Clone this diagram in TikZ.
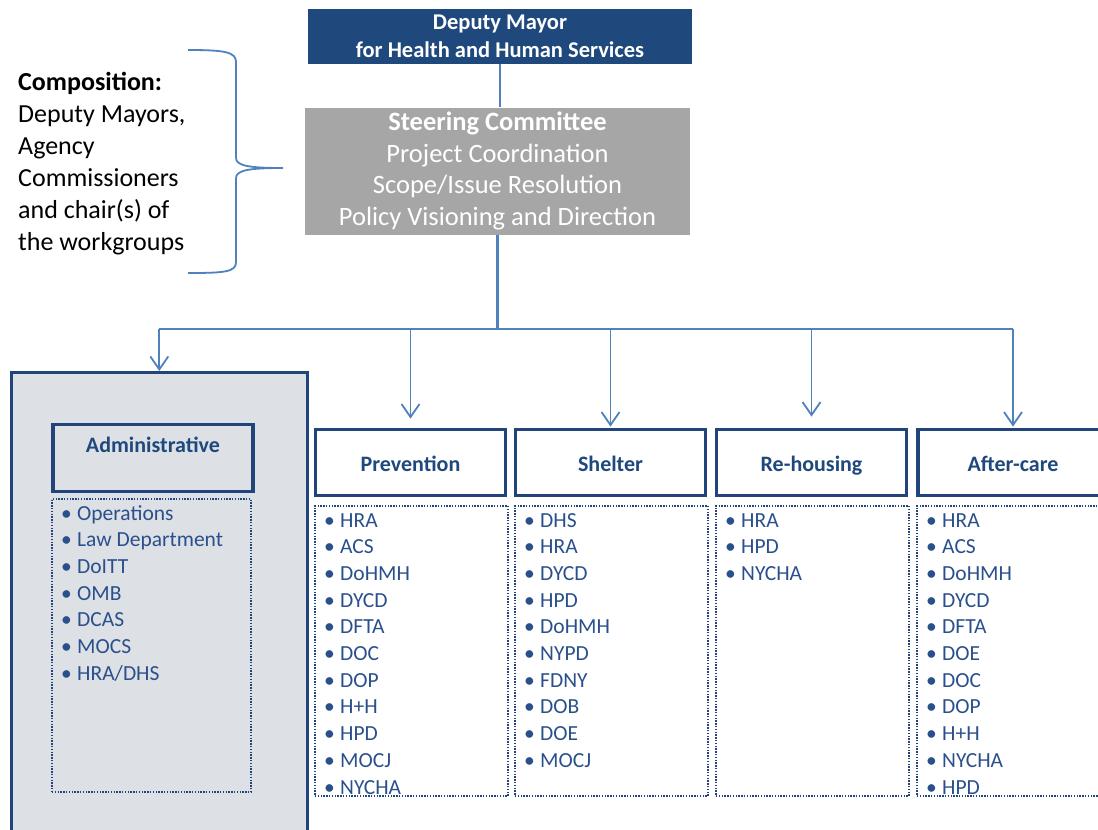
\documentclass[tikz,border=0pt]{standalone}
\usepackage{fontspec}
\setmainfont{Carlito}
\usetikzlibrary{arrows.meta,positioning}
\definecolor{dmblue}{RGB}{31,73,125}
\definecolor{hdrblue}{RGB}{33,68,122}
\definecolor{linkblue}{RGB}{79,129,189}
\definecolor{listblue}{RGB}{42,80,140}
\definecolor{stgray}{RGB}{166,166,166}
\definecolor{admgray}{RGB}{221,224,229}

\tikzset{
  mayorbox/.style={fill=dmblue, draw=none, text=white, align=center,
    minimum width=384pt, minimum height=55pt, font=\bfseries\fontsize{22.5}{28}\selectfont},
  steerbox/.style={fill=stgray, draw=none, text=white, align=center,
    minimum width=385pt, minimum height=127pt, font=\fontsize{26.5}{31.5}\selectfont},
  groupbox/.style={draw=hdrblue, line width=3.8pt, fill=white, text=dmblue,
    text height=18pt, text depth=0pt,
    minimum width=190pt, minimum height=66pt, font=\bfseries\fontsize{22}{26}\selectfont},
  listbox/.style={draw=hdrblue, line width=1.8pt, dash pattern=on 1.4pt off 1.4pt,
    minimum width=193pt, minimum height=290pt, anchor=north west},
  agency/.style={anchor=base west, inner sep=0pt, text=listblue,
    font=\fontsize{21.5}{26}\selectfont},
  link/.style={draw=linkblue, line width=1.8pt},
  linkarrow/.style={link, -{Straight Barb[length=13pt, width=18pt, line width=1.8pt]}}
}
\newcommand{\agencylist}[2]{%
  \foreach \ag [count=\i from 0] in {#2}
    \node[agency] (#1-\i) at ([shift={(10,22+26.7*\i)}]#1.north west)
      {\makebox[16pt][l]{\textbullet}\ag};}

\begin{document}
\begin{tikzpicture}[x=1pt, y=-1pt]
    \useasboundingbox (0,0) rectangle (1098,830);
    \clip (0,0) rectangle (1098,830);

    % Top of the hierarchy
    \node[mayorbox] (mayor) at (500,36.5) {Deputy Mayor\\for Health and Human Services};
    \node[steerbox] (steer) at (497.5,171) {\textbf{Steering Committee}\\Project Coordination\\Scope/Issue Resolution\\Policy Visioning and Direction};
    \draw[link] (mayor.south) -- (mayor.south |- steer.north);

    % Composition note with brace
    \node[anchor=north west, inner sep=0pt, align=left, font=\fontsize{26}{32}\selectfont] (comp) at (18,72)
        {\textbf{Composition:}\\Deputy Mayors,\\Agency\\Commissioners\\and chair(s) of\\the workgroups};
    \coordinate (bracetip) at (283,168);
    \draw[link, line width=1.8pt] (188,50) .. controls (225,50) and (236,52) .. (236,62) -- (236,158)
        .. controls (236,166) and (250,168) .. (bracetip)
        .. controls (250,168) and (236,170) .. (236,178) -- (236,262)
        .. controls (236,272) and (225,273) .. (188,273);

    % Administrative workgroup
    \node[draw=hdrblue, line width=2.6pt, fill=admgray, minimum width=296pt, minimum height=470pt, anchor=north west] (admbox) at (10,371) {};
    \node[groupbox, fill=admgray, minimum width=200pt, minimum height=67pt, anchor=north west] (admhdr) at (51,422.5) {};
    \node[text=dmblue, font=\bfseries\fontsize{22}{26}\selectfont] (admlbl) at ([yshift=-22pt]admhdr.north) {Administrative};
    \node[listbox, minimum width=199pt, minimum height=293pt] (admlist) at (51,498) {};
    \agencylist{admlist}{Operations,Law Department,DoITT,OMB,DCAS,MOCS,HRA/DHS}

    % Service workgroups
    \node[groupbox] (prevhdr) at (410.5,462.5) {Prevention};
    \node[groupbox] (shelhdr) at (610.5,462.5) {Shelter};
    \node[groupbox] (rehohdr) at (811.5,462.5) {Re-housing};
    \node[groupbox] (afthdr)  at (1013,462.5) {After-care};

    \node[listbox] (prevlist) at (314,505) {};
    \node[listbox] (shellist) at (514,505) {};
    \node[listbox] (reholist) at (715,505) {};
    \node[listbox] (aftlist)  at (916,505) {};
    \agencylist{prevlist}{HRA,ACS,DoHMH,DYCD,DFTA,DOC,DOP,H+H,HPD,MOCJ,NYCHA}
    \agencylist{shellist}{DHS,HRA,DYCD,HPD,DoHMH,NYPD,FDNY,DOB,DOE,MOCJ}
    \agencylist{reholist}{HRA,HPD,NYCHA}
    \agencylist{aftlist}{HRA,ACS,DoHMH,DYCD,DFTA,DOE,DOC,DOP,H+H,NYCHA,HPD}

    % Distribution lines
    \coordinate (bus) at (497.5,329);
    \draw[link, line width=2.6pt] (steer.south) -- (bus);
    \draw[link] (bus -| admbox.north) -- (bus -| afthdr.north);
    \foreach \grp/\gap in {admbox/0, prevhdr/9, shelhdr/1, rehohdr/11, afthdr/1}
        \draw[linkarrow, shorten >=\gap pt] (bus -| \grp.north) -- (\grp.north);
\end{tikzpicture}
\end{document}
